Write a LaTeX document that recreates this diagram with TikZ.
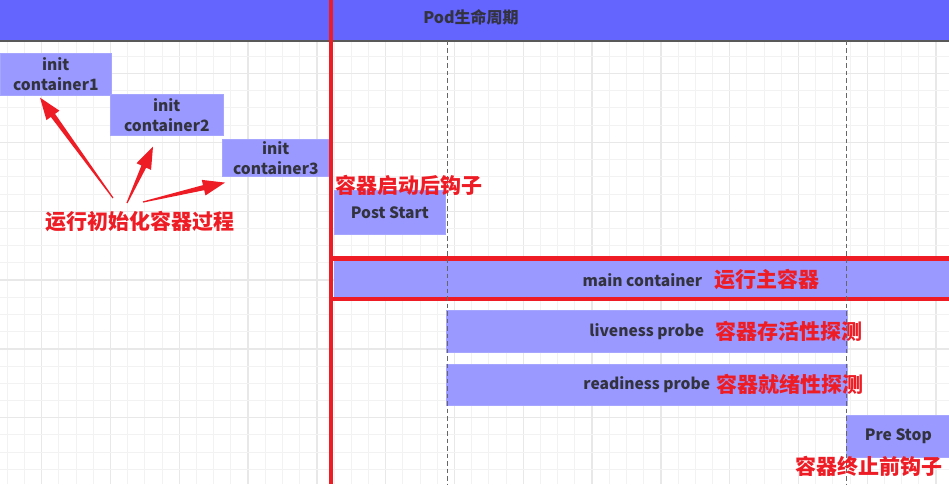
\documentclass[tikz,border=0pt]{standalone}
\usepackage{fontspec}
\setmainfont{Noto Sans CJK SC}
\usetikzlibrary{calc}
\definecolor{barblue}{HTML}{6464FF}
\definecolor{boxblue}{HTML}{9999FF}
\definecolor{boxedge}{HTML}{A6A6FF}
\definecolor{redc}{HTML}{EE1C25}
\definecolor{txtgray}{HTML}{333340}
\definecolor{gridminor}{HTML}{F2F2F2}
\definecolor{gridmajor}{HTML}{E8E8E8}
\definecolor{dashgray}{HTML}{666666}
\newcommand\taperarrow[2]{%
  \coordinate (tmpB) at ($(#2)!22pt!(#1)$);
  \fill[redc] ($(#1)!0.6pt!90:(#2)$) -- ($(tmpB)!2.6pt!90:(#2)$) -- ($(tmpB)!8pt!90:(#2)$) -- (#2)
    -- ($(tmpB)!8pt!-90:(#2)$) -- ($(tmpB)!2.6pt!-90:(#2)$) -- ($(#1)!0.6pt!-90:(#2)$) -- cycle;}
\begin{document}
\begin{tikzpicture}[x=1pt,y=-1pt,
  box/.style={fill=boxblue, draw=boxedge, line width=0.6pt, inner sep=0pt, anchor=north west,
    text=txtgray, font=\fontsize{15.6}{20}\selectfont\bfseries, align=center},
  redlabel/.style={text=redc, font=\fontsize{21}{24}\selectfont\bfseries, inner sep=0pt},
  graylabel/.style={text=txtgray, font=\fontsize{15.6}{20}\selectfont\bfseries, inner sep=0pt},
  timeline/.style={dashgray, dash pattern=on 4.5pt off 3pt, line width=0.8pt},
  redline/.style={redc, line width=4pt}]
\useasboundingbox (0,0) rectangle (949,484);
\fill[white] (0,0) rectangle (949,484);
% grid
\foreach \k in {0,...,54}{
  \pgfmathsetmacro\xx{7.3+17.2*\k}
  \pgfmathtruncatemacro\mm{mod(\k,4)}
  \ifnum\mm=2
    \draw[gridmajor, line width=1.4pt] (\xx,0) -- (\xx,484);
  \else
    \draw[gridminor, line width=1pt] (\xx,0) -- (\xx,484);
  \fi}
\foreach \k in {0,...,27}{
  \pgfmathsetmacro\yy{4.8+17.2*\k}
  \pgfmathtruncatemacro\mm{mod(\k,4)}
  \ifnum\mm=0
    \draw[gridmajor, line width=1.4pt] (0,\yy) -- (949,\yy);
  \else
    \draw[gridminor, line width=1pt] (0,\yy) -- (949,\yy);
  \fi}
% title bar
\fill[barblue] (0,0) rectangle (949,41);
\draw[black!65, line width=1.5pt] (0,41) -- (949,41);
\node[graylabel, font=\fontsize{16}{20}\selectfont\bfseries] (title) at (471,17) {Pod生命周期};
% init containers
\node[box, minimum width=111pt, minimum height=42pt] (ic1) at (0,53) {init\\container1};
\node[box, minimum width=113pt, minimum height=41pt] (ic2) at (110,94) {init\\container2};
\node[box, minimum width=107pt, minimum height=37pt] (ic3) at (222,139) {init\\container3};
% post start
\node[box, minimum width=111pt, minimum height=44pt] (ps) at (334,190) {Post Start};
% main container
\node[box, draw=none, minimum width=616pt, minimum height=37pt] (mc) at (334,261) {main container};
\draw[redc, line width=4.5pt] (331,258.5) rectangle (951.2,299);
% probes
\node[box, minimum width=401pt, minimum height=42pt] (lp) at (446,310) {liveness probe};
\node[box, minimum width=401pt, minimum height=41pt] (rp) at (446,364) {readiness probe};
% pre stop
\node[box, minimum width=104pt, minimum height=42pt] (pst) at (846,415) {Pre Stop};
% timeline dashed lines
\coordinate (d1t) at (447,41); \coordinate (d1b) at (447,484);
\coordinate (d2t) at (846,41); \coordinate (d2b) at (846,484);
\draw[timeline] (d1t) -- (d1b);
\draw[timeline] (d2t) -- (d2b);
% red vertical line
\coordinate (rlt) at (331,0); \coordinate (rlb) at (331,484);
\draw[redline] (rlt) -- (rlb);
% red labels
\node[redlabel, anchor=west] (lInit) at (45,222) {运行初始化容器过程};
\node[redlabel, anchor=west] (lPost) at (335,185) {容器启动后钩子};
\node[redlabel, anchor=west] (lMain) at (714,280) {运行主容器};
\node[redlabel, anchor=west] (lLive) at (715,331) {容器存活性探测};
\node[redlabel, anchor=west] (lReady) at (716,384) {容器就绪性探测};
\node[redlabel, anchor=west] (lPre) at (795,466) {容器终止前钩子};
% arrows
\coordinate (a1t) at (113,198); \coordinate (a1h) at ($(ic1.south west)+(40,2)$);
\coordinate (a2t) at (127,203); \coordinate (a2h) at ($(ic2.south west)+(43,11)$);
\coordinate (a3t) at (143,202); \coordinate (a3h) at ($(ic3.south west)+(3,6)$);
\taperarrow{a1t}{a1h}
\taperarrow{a2t}{a2h}
\taperarrow{a3t}{a3h}
\end{tikzpicture}
\end{document}
